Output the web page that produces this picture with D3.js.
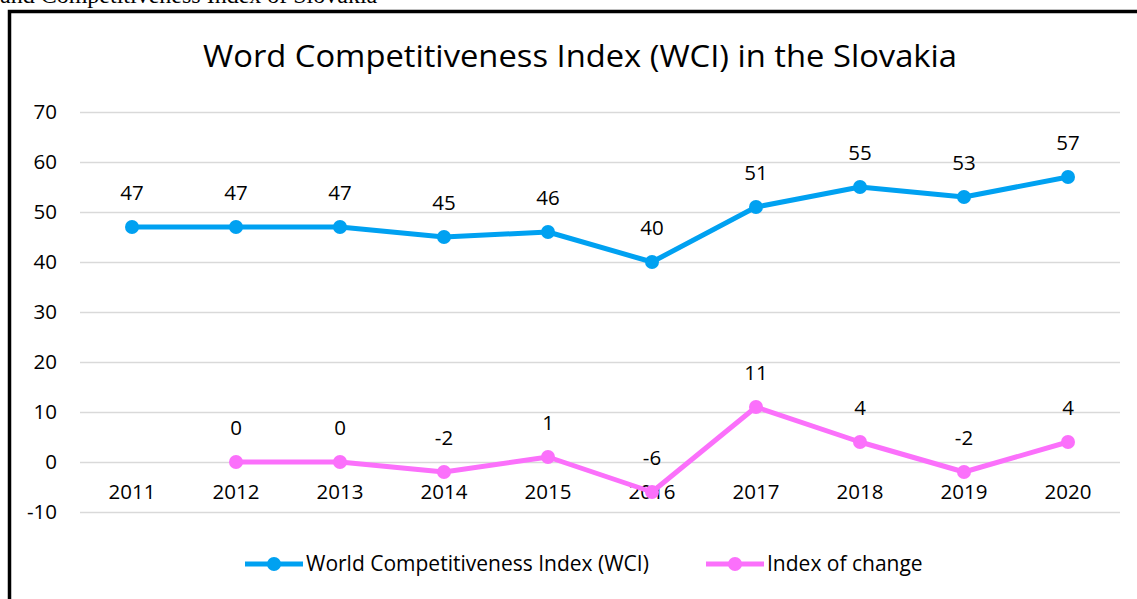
<!DOCTYPE html>
<head>
    <meta charset="utf-8">
    <style> body { margin: 0; background: #fff; } </style>
    <script src="https://d3js.org/d3.v7.min.js"></script>
</head>
<body>
<div id="chart"></div>
<script>
    var years = ["2011", "2012", "2013", "2014", "2015", "2016", "2017", "2018", "2019", "2020"];
    var wci = [47, 47, 47, 45, 46, 40, 51, 55, 53, 57];
    var change = [null, 0, 0, -2, 1, -6, 11, 4, -2, 4];
    var yTicks = [-10, 0, 10, 20, 30, 40, 50, 60, 70];

    var W = 1137, H = 599;
    var font = "'Open Sans', Lato, sans-serif";
    var blue = "#00a1f1", pink = "#fb70fb";

    var svg = d3.select("#chart").append("svg")
        .attr("width", W)
        .attr("height", H);

    // caption of the page above, cut off
    svg.append("text")
        .attr("x", 0).attr("y", 3)
        .attr("font-family", "'Liberation Serif', serif")
        .attr("font-size", 24)
        .text("and Competitiveness Index of Slovakia");

    svg.append("rect")
        .attr("x", 9.5).attr("y", 11.5)
        .attr("width", 1150).attr("height", 620)
        .attr("fill", "#fff")
        .attr("stroke", "#000")
        .attr("stroke-width", 3.5);

    svg.append("text")
        .attr("x", 580).attr("y", 67)
        .attr("text-anchor", "middle")
        .attr("font-family", font)
        .attr("font-size", 31)
        .attr("textLength", 754)
        .attr("lengthAdjust", "spacingAndGlyphs")
        .attr("fill", "#000")
        .text("Word Competitiveness Index (WCI) in the Slovakia");

    var x = d3.scaleBand().domain(years).range([80, 1120]);
    var y = d3.scaleLinear().domain([-10, 70]).range([512, 112]);
    var cx = d => x(d) + x.bandwidth() / 2;

    // grid
    svg.append("g")
        .attr("transform", "translate(80,0)")
        .call(d3.axisLeft(y).tickValues(yTicks).tickSize(-1040).tickFormat(""))
        .call(g => g.select(".domain").remove())
        .call(g => g.selectAll("line").attr("stroke", "#d9d9d9").attr("stroke-width", 1.5));

    // y labels
    svg.append("g")
        .selectAll("text")
        .data(yTicks)
        .enter().append("text")
        .attr("x", 57)
        .attr("y", d => y(d) + 7)
        .attr("text-anchor", "end")
        .attr("font-family", font)
        .attr("font-size", 20.5)
        .text(d => d);

    // x labels
    svg.append("g")
        .selectAll("text")
        .data(years)
        .enter().append("text")
        .attr("x", d => cx(d))
        .attr("y", 499)
        .attr("text-anchor", "middle")
        .attr("font-family", font)
        .attr("font-size", 20.5)
        .text(d => d);

    function series(vals, color) {
        var pts = years.map((yr, i) => ({ yr: yr, v: vals[i] })).filter(d => d.v !== null);
        var g = svg.append("g");
        g.append("path")
            .datum(pts)
            .attr("fill", "none")
            .attr("stroke", color)
            .attr("stroke-width", 5)
            .attr("stroke-linejoin", "round")
            .attr("d", d3.line().x(d => cx(d.yr)).y(d => y(d.v)));
        g.selectAll("circle")
            .data(pts)
            .enter().append("circle")
            .attr("cx", d => cx(d.yr))
            .attr("cy", d => y(d.v))
            .attr("r", 7)
            .attr("fill", color);
        g.selectAll("text")
            .data(pts)
            .enter().append("text")
            .attr("x", d => cx(d.yr))
            .attr("y", d => y(d.v) - 27)
            .attr("text-anchor", "middle")
            .attr("font-family", font)
            .attr("font-size", 20.5)
            .text(d => d.v);
    }

    series(wci, blue);
    series(change, pink);

    // legend
    var legend = [
        { name: "World Competitiveness Index (WCI)", color: blue, x: 245 },
        { name: "Index of change", color: pink, x: 706 }
    ];
    var lg = svg.append("g").selectAll("g")
        .data(legend)
        .enter().append("g")
        .attr("transform", d => `translate(${d.x},564)`);
    lg.append("line")
        .attr("x1", 0).attr("x2", 58)
        .attr("stroke", d => d.color)
        .attr("stroke-width", 5);
    lg.append("circle")
        .attr("cx", 29).attr("r", 7)
        .attr("fill", d => d.color);
    lg.append("text")
        .attr("x", 61).attr("y", 7)
        .attr("font-family", font)
        .attr("font-size", 21)
        .text(d => d.name);
</script>
</body>
